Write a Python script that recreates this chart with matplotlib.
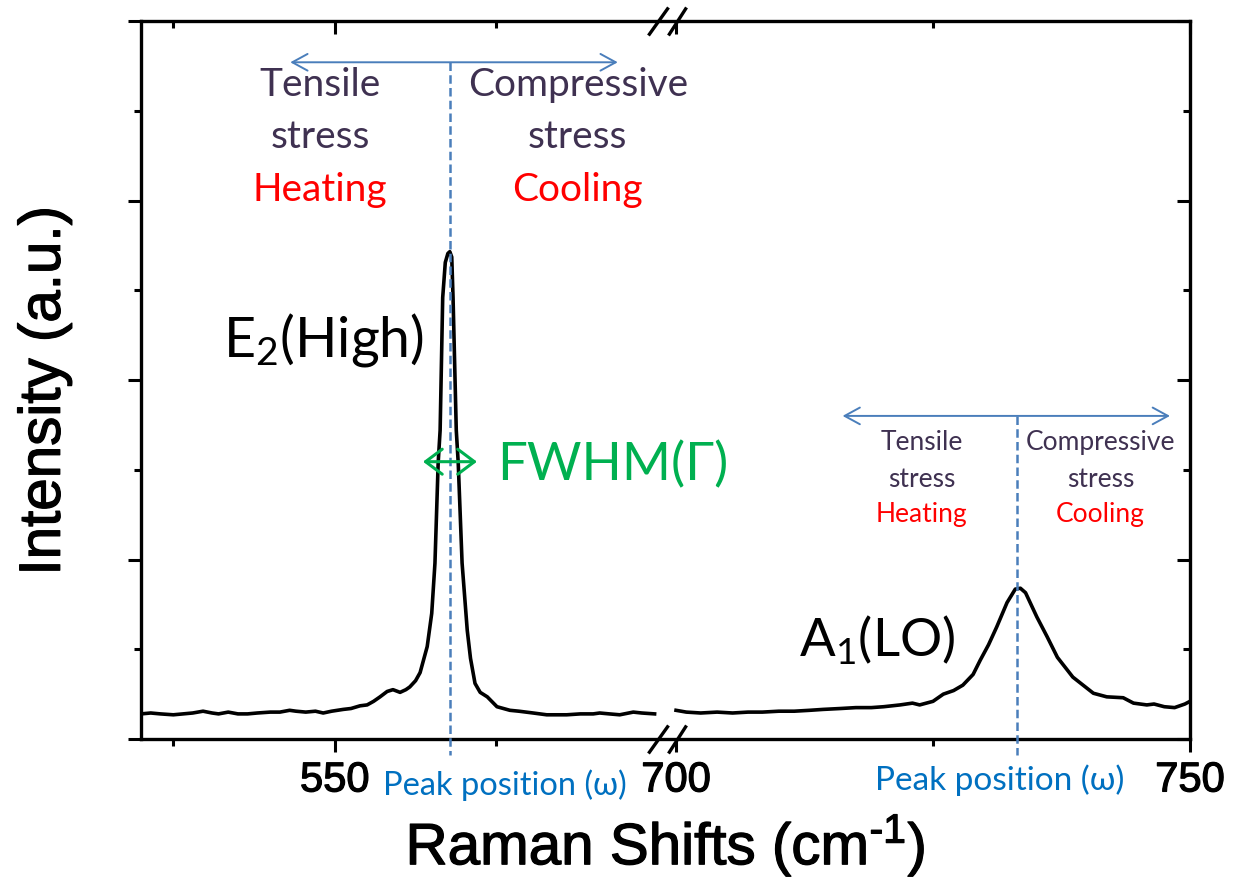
import numpy as np
import matplotlib
matplotlib.use('Agg')
import matplotlib.pyplot as plt
import matplotlib.patheffects as pe
from matplotlib.ticker import FixedLocator, FixedFormatter, MultipleLocator, NullFormatter
from matplotlib.patches import FancyArrowPatch
from matplotlib.path import Path

# Raman spectrum, left part of the broken axis (E2(High) region)
x_left = [520.0, 521.5, 523.0, 525.0, 526.5, 528.0, 529.6, 531.0, 532.0, 533.5,
          535.0, 536.5, 538.0, 540.0, 541.5, 543.0, 544.0, 545.5, 547.0, 548.2,
          549.5, 551.3, 552.5, 553.9, 555.0, 556.0, 557.0, 558.1, 559.0, 560.1,
          561.0, 561.6, 562.5, 563.2, 564.3, 565.0, 565.5, 566.0, 566.3, 566.7,
          567.1, 567.5, 567.8, 568.1, 568.3, 568.8, 569.1, 569.7, 570.5, 571.0,
          571.7, 572.5, 573.6, 575.1, 577.1, 578.5, 580.7, 582.8, 584.5, 585.9,
          588.0, 590.0, 591.0, 592.5, 594.1, 596.2, 597.5, 599.5]
y_left = [0.28, 0.29, 0.28, 0.27, 0.28, 0.29, 0.31, 0.29, 0.28, 0.30,
          0.28, 0.28, 0.29, 0.30, 0.30, 0.32, 0.31, 0.30, 0.31, 0.29,
          0.31, 0.33, 0.34, 0.37, 0.38, 0.42, 0.47, 0.53, 0.55, 0.52,
          0.55, 0.58, 0.65, 0.74, 1.03, 1.40, 1.96, 3.08, 3.44, 4.92,
          5.31, 5.41, 5.43, 5.37, 4.92, 3.44, 3.08, 1.96, 1.21, 0.90,
          0.62, 0.52, 0.47, 0.36, 0.32, 0.31, 0.29, 0.27, 0.27, 0.27,
          0.28, 0.28, 0.29, 0.28, 0.27, 0.30, 0.29, 0.28]

# right part of the broken axis (A1(LO) region)
x_right = [700.0, 701.0, 702.4, 704.0, 705.5, 707.0, 708.4, 710.0, 711.5, 713.0,
           714.3, 716.0, 717.5, 719.0, 720.2, 721.8, 723.0, 723.7, 725.0, 726.0,
           727.0, 727.9, 728.9, 729.6, 730.4, 731.2, 732.2, 733.0, 733.5, 734.0,
           735.1, 736.1, 737.1, 738.6, 740.6, 741.9, 743.5, 744.5, 745.8, 746.5,
           747.5, 748.5, 749.5, 750.0]
y_right = [0.32, 0.30, 0.29, 0.30, 0.29, 0.30, 0.30, 0.31, 0.31, 0.32,
           0.33, 0.34, 0.35, 0.35, 0.36, 0.38, 0.40, 0.38, 0.42, 0.50,
           0.54, 0.60, 0.72, 0.88, 1.05, 1.25, 1.52, 1.67, 1.68, 1.63,
           1.36, 1.14, 0.91, 0.69, 0.51, 0.47, 0.46, 0.40, 0.38, 0.39,
           0.36, 0.35, 0.39, 0.42]

e2_peak = 567.8
a1_peak = 733.2

major_ticks = [550, 700, 750]
tick_labels = ['550', '700', '750']
minor_ticks = [525, 575, 725]

# broken x axis: 520-600 and 700-750 get different widths, the gap is squeezed
brk_x = [0, 520, 600, 700, 750, 2000]
brk_u = [-3359.2, 0, 516.8, 535, 1049, 13899]


def fwd(x):
    return np.interp(x, brk_x, brk_u)


def inv(u):
    return np.interp(u, brk_u, brk_x)


plt.rcParams['font.family'] = 'Liberation Sans'
calibri = ['Lato', 'DejaVu Sans']
dark = '#3f3151'
blue = '#4a7ebb'
heavy = [pe.withStroke(linewidth=0.9, foreground='black')]

fig = plt.figure(figsize=(12.36, 8.82), dpi=100)
ax = fig.add_axes([0.1141, 0.1621, 0.8487, 0.8141])
ax.set_xscale('function', functions=(fwd, inv))
ax.set_xlim(520, 750)
ax.set_ylim(0, 8)

ax.plot(x_left, y_left, color='black', lw=2.6, zorder=3)
ax.plot(x_right, y_right, color='black', lw=2.6, zorder=3)

# ticks
ax.xaxis.set_major_locator(FixedLocator(major_ticks))
ax.xaxis.set_major_formatter(FixedFormatter(tick_labels))
ax.xaxis.set_minor_locator(FixedLocator(minor_ticks))
ax.yaxis.set_major_locator(MultipleLocator(2))
ax.yaxis.set_minor_locator(MultipleLocator(1))
ax.yaxis.set_major_formatter(NullFormatter())
ax.tick_params(which='both', direction='out', width=2.2, labelsize=30, pad=6)
ax.tick_params(which='major', length=9.4)
ax.tick_params(which='minor', length=5)
for s in ax.spines.values():
    s.set_linewidth(2.4)
for lab in ax.get_xticklabels():
    lab.set_path_effects(heavy)

ax_t = ax.twiny()
ax_t.set_xscale('function', functions=(fwd, inv))
ax_t.set_xlim(520, 750)
ax_t.xaxis.set_major_locator(FixedLocator(major_ticks))
ax_t.xaxis.set_minor_locator(FixedLocator(minor_ticks))
ax_t.tick_params(which='both', direction='in', width=2.2, labeltop=False)
ax_t.tick_params(which='major', length=9.4)
ax_t.tick_params(which='minor', length=5)

ax_r = ax.twinx()
ax_r.set_ylim(0, 8)
ax_r.yaxis.set_major_locator(MultipleLocator(2))
ax_r.yaxis.set_minor_locator(MultipleLocator(1))
ax_r.tick_params(which='both', direction='in', width=2.2, labelright=False)
ax_r.tick_params(which='major', length=9.4)
ax_r.tick_params(which='minor', length=5)
for a in (ax_t, ax_r):
    for s in a.spines.values():
        s.set_visible(False)

ax.set_xlabel('Raman Shifts (cm$\\mathregular{^{\u20101}}$)', fontsize=42, path_effects=heavy)
ax.xaxis.set_label_coords(0.5, -0.104)
ax.set_ylabel('Intensity (a.u.)', fontsize=42, path_effects=heavy)
ax.yaxis.set_label_coords(-0.066, 0.485)

# axis break marks //
brk = Path([(-19, -14), (1, 14), (1, -14), (19, 14)],
           [Path.MOVETO, Path.LINETO, Path.MOVETO, Path.LINETO])
for yb in (0, 1):
    ax.plot([650], [yb], marker=brk, ms=27.4, mfc='none', mec='black', mew=2.4,
            transform=ax.get_xaxis_transform(), clip_on=False, zorder=5)

# peak position guides
ax.plot([e2_peak, e2_peak], [7.54, -0.18], ls=(0, (3.4, 1.7)), color=blue, lw=1.8,
        clip_on=False, zorder=4)
ax.plot([a1_peak, a1_peak], [3.60, -0.18], ls=(0, (3.4, 1.7)), color=blue, lw=1.8,
        clip_on=False, zorder=4)

for (xa, xb, yy, col, lw, hl, hw) in [(543.1, 593.8, 7.54, blue, 1.4, 0.55, 0.3),
                                      (716.2, 748.05, 3.60, blue, 1.4, 0.55, 0.3),
                                      (563.65, 572.0, 3.09, '#00b050', 2.2, 0.6, 0.45)]:
    ax.add_patch(FancyArrowPatch((xa, yy), (xb, yy),
                                 arrowstyle='<->,head_length=%s,head_width=%s' % (hl, hw),
                                 mutation_scale=20, color=col, lw=lw,
                                 shrinkA=0, shrinkB=0, clip_on=False, zorder=4))

# stress annotations, upper block (E2) and smaller block (A1)
for xc, words in [(547.7, ('Tensile', 'stress', 'Heating')),
                  (587.6, ('Compressive', 'stress', 'Cooling'))]:
    for yy, w, c in zip((7.29, 6.71, 6.12), words, (dark, dark, 'red')):
        ax.text(xc, yy, w, ha='center', va='center', fontsize=28, color=c, family=calibri)
for xc, words in [(723.9, ('Tensile', 'stress', 'Heating')),
                  (741.3, ('Compressive', 'stress', 'Cooling'))]:
    for yy, w, c in zip((3.30, 2.89, 2.50), words, (dark, dark, 'red')):
        ax.text(xc, yy, w, ha='center', va='center', fontsize=19, color=c, family=calibri)

ax.text(548.2, 4.45, 'E$\\mathregular{_2}$(High)', ha='center', va='center', fontsize=40,
        color='black', family=calibri)
ax.text(575.1, 3.05, 'FWHM(Γ)', ha='left', va='center', fontsize=38,
        color='#00b050', family=calibri)
ax.text(719.6, 1.10, 'A$\\mathregular{_1}$(LO)', ha='center', va='center', fontsize=38,
        color='black', family=calibri)
ax.text(576.3, -0.51, 'Peak position (ω)', ha='center', va='center', fontsize=23.5,
        color='#0070c0', family=calibri, clip_on=False)
ax.text(731.5, -0.46, 'Peak position (ω)', ha='center', va='center', fontsize=24,
        color='#0070c0', family=calibri, clip_on=False)

fig.savefig('out.png', dpi=100)
